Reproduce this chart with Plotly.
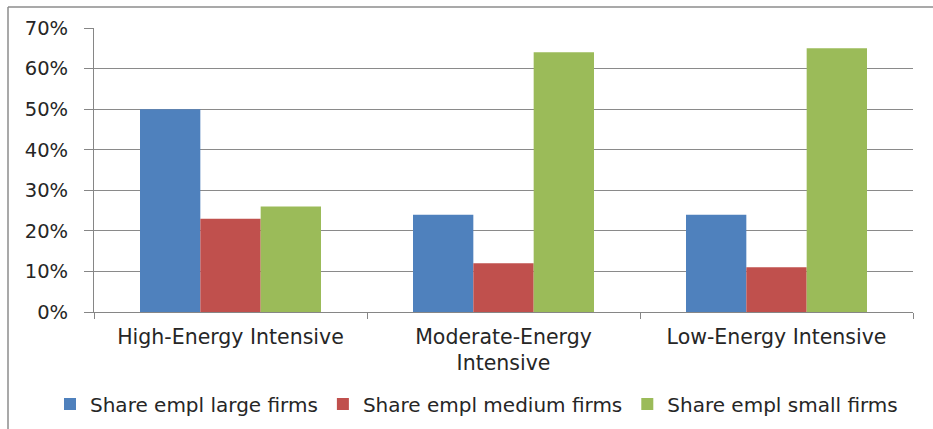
import plotly.graph_objects as go

categories = ["High-Energy Intensive", "Moderate-Energy<br>Intensive", "Low-Energy Intensive"]
large = [50, 24, 24]
medium = [23, 12, 11]
small = [26, 64, 65]
series_names = ["Share empl large firms", "Share empl medium firms", "Share empl small firms"]
colors = ["#4F81BD", "#C0504D", "#9BBB59"]

fig = go.Figure()
for name, vals, c in zip(series_names, [large, medium, small], colors):
    fig.add_trace(go.Bar(x=categories, y=vals, name=name, marker=dict(color=c, line=dict(width=0))))

W, H = 933, 429
L, R, T, B = 94, 20, 28, 117
pw, ph = W - L - R, H - T - B

def px(x):
    return (x - L) / pw

def py(y):
    return (H - B - y) / ph

fam = "DejaVu Sans, sans-serif"
col = "#262626"

fig.update_layout(
    width=W, height=H,
    margin=dict(l=L, r=R, t=T, b=B, autoexpand=False),
    paper_bgcolor="white", plot_bgcolor="white",
    barmode="group", bargap=0.337, bargroupgap=0,
    font=dict(family=fam, size=19, color=col),
    showlegend=True,
    legend=dict(orientation="h", x=px(50), xanchor="left", y=py(404), yanchor="middle",
                font=dict(family=fam, size=20, color=col), itemwidth=30, tracegroupgap=0),
    xaxis=dict(showline=True, linecolor="#868686", linewidth=1, ticks="outside", tickson="boundaries",
               ticklen=6, tickcolor="#868686", showgrid=False, automargin=False,
               tickfont=dict(family=fam, size=20.5, color=col), ticklabelstandoff=6),
    yaxis=dict(range=[0, 70], dtick=10, ticksuffix="%", showgrid=True, gridcolor="#8A8A8A", gridwidth=1,
               showline=True, linecolor="#868686", ticks="outside", ticklen=9, tickcolor="#868686",
               automargin=False,
               tickfont=dict(family=fam, size=19.5, color=col), zeroline=False, ticklabelstandoff=12),
    shapes=[
        dict(type="line", xref="paper", yref="paper", x0=px(8), x1=px(933), y0=py(7), y1=py(7),
             line=dict(color="#8C8C8C", width=1.5)),
        dict(type="line", xref="paper", yref="paper", x0=px(8), x1=px(8), y0=py(7), y1=py(429),
             line=dict(color="#8C8C8C", width=1.5)),
    ],
)

fig.write_html("out.html")
